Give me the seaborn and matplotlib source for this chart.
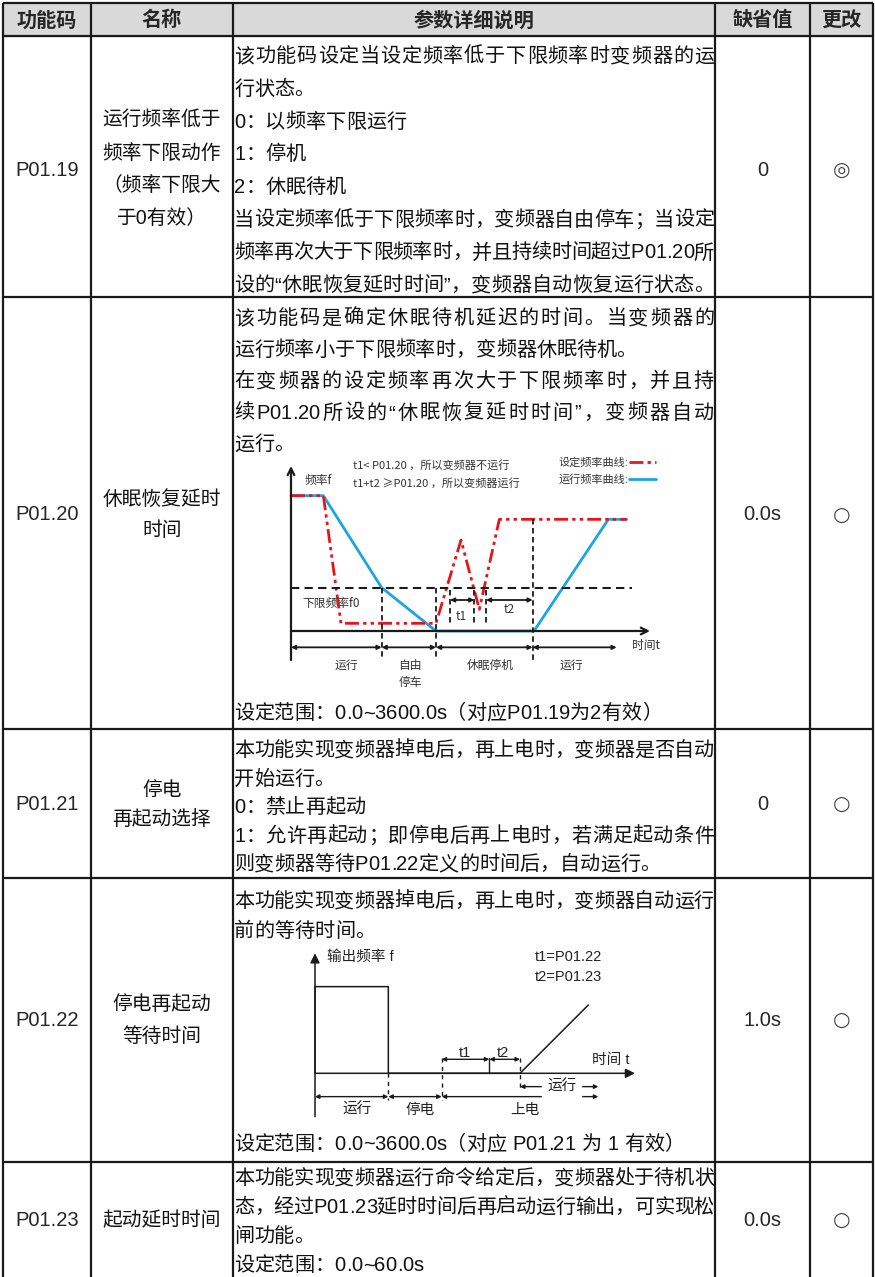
import matplotlib
matplotlib.use('Agg')
import matplotlib.pyplot as plt
from matplotlib.patches import Rectangle
from matplotlib import font_manager
from matplotlib.ft2font import FT2Font
import seaborn as sns

try:
    from matplotlib.ft2font import LoadFlags
    NO_HINT = LoadFlags.NO_HINTING
except ImportError:
    from matplotlib.ft2font import LOAD_NO_HINTING as NO_HINT

W, H = 875, 1277

# ---- table content ----
header_labels = ['功能码', '名称', '参数详细说明', '缺省值', '更改']
codes = ['P01.19', 'P01.20', 'P01.21', 'P01.22', 'P01.23']
names = [
    ['运行频率低于', '频率下限动作', '（频率下限大', '于0有效）'],
    ['休眠恢复延时', '时间'],
    ['停电', '再起动选择'],
    ['停电再起动', '等待时间'],
    ['起动延时时间'],
]
defaults = ['0', '0.0s', '0', '1.0s', '0.0s']
changes = ['◎', '○', '○', '○', '○']

desc_p0119 = [
    '该功能码设定当设定频率低于下限频率时变频器的运',
    '行状态。',
    '0：以频率下限运行',
    '1：停机',
    '2：休眠待机',
    '当设定频率低于下限频率时，变频器自由停车；当设定',
    '频率再次大于下限频率时，并且持续时间超过P01.20所',
    '设的“休眠恢复延时时间”，变频器自动恢复运行状态。',
]
wrap_p0119 = [True, False, False, False, False, True, True, True]
desc_p0120 = [
    '该功能码是确定休眠待机延迟的时间。当变频器的',
    '运行频率小于下限频率时，变频器休眠待机。',
    '在变频器的设定频率再次大于下限频率时，并且持',
    '续P01.20所设的“休眠恢复延时时间”，变频器自动',
    '运行。',
]
wrap_p0120 = [True, False, True, True, False]
range_p0120 = '设定范围：0.0~3600.0s（对应P01.19为2有效）'
desc_p0121 = [
    '本功能实现变频器掉电后，再上电时，变频器是否自动',
    '开始运行。',
    '0：禁止再起动',
    '1：允许再起动；即停电后再上电时，若满足起动条件',
    '则变频器等待P01.22定义的时间后，自动运行。',
]
wrap_p0121 = [True, False, False, True, False]
desc_p0122 = [
    '本功能实现变频器掉电后，再上电时，变频器自动运行',
    '前的等待时间。',
]
wrap_p0122 = [True, False]
range_p0122 = '设定范围：0.0~3600.0s（对应 P01.21 为 1 有效）'
desc_p0123 = [
    '本功能实现变频器运行命令给定后，变频器处于待机状',
    '态，经过P01.23延时时间后再启动运行输出，可实现松',
    '闸功能。',
    '设定范围：0.0~60.0s',
]
wrap_p0123 = [True, True, False, False]

# ---- sleep diagram (P01.20) ----
set_t = [0, 9.7, 15.0, 43.5, 51.0, 56.5, 62.5, 100.7]
set_f = [40.6, 40.6, 2.3, 2.3, 27.3, 6.5, 33.5, 33.5]
run_t = [0, 9.7, 27.2, 43.5, 72.9, 95.2, 100.7]
run_f = [40.6, 40.6, 13.0, 0, 0, 33.5, 33.5]
f0 = 13.0
phase_edges = [0, 27.2, 43.5, 72.5, 97.7]
phase_labels = ['运行', '自由\n停车', '休眠停机', '运行']
phase_label_t = [16.7, 35.7, 59.7, 84.2]
t1_span = [47.7, 55.0]
t2_span = [58.5, 72.5]

# ---- restart diagram (P01.22) ----
out_t = [0, 0, 22, 22, 61.5, 82]
out_f = [0, 26, 26, 0, 0, 20.5]
power_edges = [0, 22, 38, 85]
power_labels = ['运行', '停电', '上电']
wait_edges = [38, 52.3, 61.5]

sns.set_theme(style='white')
plt.rcParams['font.family'] = ['Liberation Sans', 'Noto Sans CJK SC']

fig = plt.figure(figsize=(W / 100, H / 100), dpi=100)
ax = fig.add_axes([0, 0, 1, 1])
ax.set_xlim(0, W)
ax.set_ylim(H, 0)
ax.axis('off')

col_x = [3, 91, 233, 715, 810, 873]
row_y = [3, 36, 297, 729, 878, 1162]
col_c = [(col_x[i] + col_x[i + 1]) / 2 for i in range(5)]

# header
ax.add_patch(Rectangle((col_x[0], row_y[0]), col_x[-1] - col_x[0], row_y[1] - row_y[0],
                       color='#d9d9d9', zorder=0))
for c, lab in zip(col_c, header_labels):
    ax.text(c, 20, lab, ha='center', va='center', fontsize=14.5, fontweight='bold',
            family=['Noto Sans CJK SC'])

# grid
for x in col_x:
    ax.plot([x, x], [row_y[0], H], color='k', lw=1.6, solid_capstyle='butt')
for y in row_y:
    ax.plot([col_x[0], col_x[-1]], [y, y], color='k', lw=1.6, solid_capstyle='butt')

# description text, set char by char so wrapped lines can be justified like the source
ft_fonts = [
    (FT2Font(font_manager.findfont(font_manager.FontProperties(family='Liberation Sans'))),
     'Liberation Sans'),
    (FT2Font(font_manager.findfont(font_manager.FontProperties(family='Noto Sans CJK SC'))),
     'Noto Sans CJK SC'),
]
BODY = 14.5
X_LEFT, X_RIGHT = 234, 714


def glyph(ch, size):
    for ft, fam in ft_fonts:
        if ft.get_char_index(ord(ch)):
            ft.set_size(size, 100)
            g = ft.load_char(ord(ch), flags=NO_HINT)
            return fam, g.linearHoriAdvance / 65536
    return 'DejaVu Sans', size * 100 / 72


def draw_line(s, y, justify=False, size=BODY):
    info = [glyph(ch, size) for ch in s]
    total = sum(i[1] for i in info)
    gaps = {k for k in range(1, len(s)) if not (s[k].isascii() and s[k - 1].isascii())}
    extra = (X_RIGHT - X_LEFT - total) / len(gaps) if justify and gaps else 0
    x = X_LEFT
    base = y + 0.36 * size * 100 / 72
    for k, (ch, (fam, adv)) in enumerate(zip(s, info)):
        if k in gaps:
            x += extra
        if ch != ' ':
            ax.text(x, base, ch, family=[fam], fontsize=size, ha='left',
                    va='baseline', color='#111111')
        x += adv


def block(txts, flags, y0, step):
    for i, (s, j) in enumerate(zip(txts, flags)):
        draw_line(s, y0 + i * step, j)


block(desc_p0119, wrap_p0119, 55, 32.7)
block(desc_p0120, wrap_p0120, 317, 31.5)
draw_line(range_p0120, 712)
block(desc_p0121, wrap_p0121, 749, 28.5)
block(desc_p0122, wrap_p0122, 900, 30)
draw_line(range_p0122, 1143)
block(desc_p0123, wrap_p0123, 1177, 29)

row_c = [170, 515, 804, 1020, 1220]
name_y = [[120.4, 153.1, 185.8, 218.5], [499, 531], [790, 819], [1005, 1036], [1220]]
for i in range(5):
    ax.text(col_c[0], row_c[i], codes[i], ha='center', fontsize=14.5, va='center')
    for s, y in zip(names[i], name_y[i]):
        ax.text(col_c[1], y, s, ha='center', fontsize=14.2, va='center', color='#111111')
    ax.text(col_c[3], row_c[i], defaults[i], ha='center', fontsize=14.5, va='center')
    ax.text(col_c[4], row_c[i], changes[i], ha='center', fontsize=14.5, va='center',
            color='#444444', family=['DejaVu Sans'])


def diagram_axes(origin, scale, tlim, flim):
    ox, oy = origin
    x0, x1 = ox + scale * tlim[0], ox + scale * tlim[1]
    ytop, ybot = oy - scale * flim[1], oy - scale * flim[0]
    a = fig.add_axes([x0 / W, 1 - ybot / H, (x1 - x0) / W, (ybot - ytop) / H])
    a.set_xlim(*tlim)
    a.set_ylim(*flim)
    a.axis('off')
    return a


def arrow(a, p0, p1, style='<|-|>', lw=1.2, ms=7):
    a.annotate('', xy=p1, xytext=p0,
               arrowprops=dict(arrowstyle=style, lw=lw, color='k', shrinkA=0, shrinkB=0,
                               mutation_scale=ms))


def vdash(a, t, fa, fb, lw=1.3, dashes=(3, 2)):
    a.plot([t, t], [fa, fb], color='k', lw=lw, dashes=dashes)


# ---- diagram 1 ----
d1 = diagram_axes((291, 631), 10 / 3, (-15, 120), (-18, 53))
sns.lineplot(x=run_t, y=run_f, ax=d1, sort=False, estimator=None, color='#1ba5e3', lw=2,
             label='运行频率曲线:')
sns.lineplot(x=set_t, y=set_f, ax=d1, sort=False, estimator=None, color='#e8141b', lw=2,
             linestyle=(0, (5, 1.5, 1.2, 1.5, 1.2, 1.5)), label='设定频率曲线:')
h, l = d1.get_legend_handles_labels()
d1.legend(h[::-1], l[::-1], loc='upper left', bbox_to_anchor=(78.5, 53.7),
          bbox_transform=d1.transData, markerfirst=False, frameon=False, fontsize=8,
          handlelength=2.4, handletextpad=0.1, labelspacing=0.5, borderpad=0,
          labelcolor='#333333')
arrow(d1, (0, -8.7), (0, 49.5), style='->', lw=1.6, ms=12)
arrow(d1, (0, 0), (107.7, 0), style='->', lw=1.6, ms=12)
d1.plot([0, 102.2], [f0, f0], color='k', lw=1.5, dashes=(4, 2.5))
vdash(d1, phase_edges[1], f0, -8.7)
vdash(d1, phase_edges[2], f0, -8.7)
vdash(d1, phase_edges[3], 33.5, -8.7)
for t in [t1_span[0], t1_span[1], t2_span[0]]:
    vdash(d1, t, 12.3, 2.3)
arrow(d1, (t1_span[0], 9.3), (t1_span[1], 9.3), lw=1.3, ms=6)
arrow(d1, (t2_span[0], 9.3), (t2_span[1], 9.3), lw=1.3, ms=6)
small = dict(fontsize=8.5, color='#333333', family=['Noto Sans CJK SC'])
d1.text(51.2, 4.3, 't1', ha='center', va='center', **small)
d1.text(65.5, 6.6, 't2', ha='center', va='center', **small)
for a0, a1 in zip(phase_edges[:-1], phase_edges[1:]):
    arrow(d1, (a0, -4.9), (a1, -4.9), lw=1.3, ms=6)
for t, lab in zip(phase_label_t, phase_labels):
    d1.text(t, -8.3, lab, ha='center', va='top', linespacing=1.45, **small)
d1.text(3.3, 8.3, '下限频率f0', ha='left', va='center', **small)
d1.text(4.2, 45.3, '频率f', ha='left', va='center', **small)
d1.text(102.2, -4.2, '时间t', ha='left', va='center', **small)
note = dict(small, fontsize=8)
d1.text(18.7, 49.8, 't1< P01.20 ，所以变频器不运行', ha='left', va='center', **note)
d1.text(18.7, 44.3, 't1+t2 ≥P01.20 ，所以变频器运行', ha='left', va='center', **note)

# ---- diagram 2 ----
d2 = diagram_axes((315, 1073.3), 10 / 3, (-20, 120), (-18, 42))
sns.lineplot(x=out_t, y=out_f, ax=d2, sort=False, estimator=None, color='k', lw=1.1)
arrow(d2, (0, -13), (0, 36), style='-|>', lw=1.1, ms=14)
arrow(d2, (0, 0), (96, 0), style='-|>', lw=1.1, ms=14)
vdash(d2, power_edges[1], 0, -8, lw=1, dashes=(3, 3))
vdash(d2, power_edges[2], 4.5, -8, lw=1, dashes=(3, 3))
vdash(d2, wait_edges[2], 4.5, -4.5, lw=1, dashes=(3, 3))
d2.plot([wait_edges[1], wait_edges[1]], [4.5, 0], color='k', lw=1)
for a0, a1 in zip(wait_edges[:-1], wait_edges[1:]):
    arrow(d2, (a0, 4.2), (a1, 4.2), lw=1, ms=6)
for a0, a1 in zip(power_edges[:-1], power_edges[1:]):
    arrow(d2, (a0, -7), (a1, -7), lw=1, ms=6)
arrow(d2, (wait_edges[2], -4), (85, -4), lw=1, ms=6)
mid = dict(fontsize=10.5, color='#222222')
d2.text(74, -4, '运行', ha='center', va='center', backgroundcolor='white', **mid)
d2.text(45, 6, 't1', ha='center', va='center', **mid)
d2.text(56.5, 6, 't2', ha='center', va='center', **mid)
for a0, a1, lab in zip(power_edges[:-1], power_edges[1:], power_labels):
    d2.text((a0 + a1) / 2 + 1.5, -11, lab, ha='center', va='center', **mid)
d2.text(3.5, 35, '输出频率 f', ha='left', va='center', **mid)
d2.text(66, 35, 't1=P01.22', ha='left', va='center', **mid)
d2.text(66, 29, 't2=P01.23', ha='left', va='center', **mid)
d2.text(83, 4, '时间 t', ha='left', va='center', **mid)

fig.savefig('out.png', dpi=100)
